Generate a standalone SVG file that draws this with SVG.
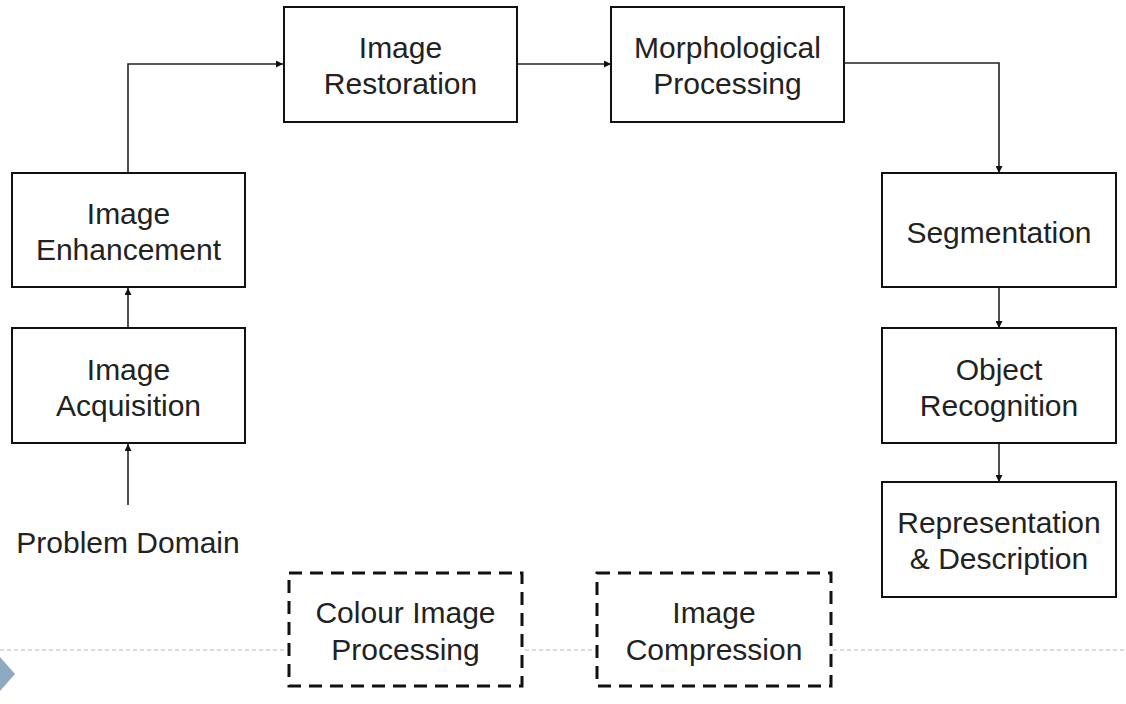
<svg xmlns="http://www.w3.org/2000/svg" width="1126" height="704" viewBox="0 0 1126 704">
  <style>
    .box { fill: #ffffff; stroke: #111111; stroke-width: 2; }
    .dbox { fill: #ffffff; stroke: #111111; stroke-width: 3; stroke-dasharray: 13 8; }
    .lbl { font-family: "Liberation Sans", Arial, sans-serif; font-size: 30px; fill: #222222; text-anchor: middle; }
    .conn { fill: none; stroke: #222222; stroke-width: 1.6; marker-end: url(#arr); }
    .guide { stroke: #b4bcc6; stroke-width: 1.2; stroke-dasharray: 4 3; fill: none; }
  </style>
  <defs>
    <marker id="arr" viewBox="0 0 10 10" refX="10" refY="5" markerWidth="8" markerHeight="7" orient="auto" markerUnits="userSpaceOnUse">
      <path d="M0,0 L10,5 L0,10 z" fill="#111111"/>
    </marker>
  </defs>

  <rect width="1126" height="704" fill="#ffffff"/>

  <!-- slide guide line and bullet -->
  <g id="decor">
    <line class="guide" x1="0" y1="650" x2="1126" y2="650"/>
    <polygon points="0,657 15,674 0,691" fill="#8fa8c4"/>
  </g>

  <g id="connectors">
    <path class="conn" d="M128,505 V444"/>
    <path class="conn" d="M128,328 V288"/>
    <path class="conn" d="M128,173 V64 H283"/>
    <path class="conn" d="M517,64 H611"/>
    <path class="conn" d="M844,63 H999 V173"/>
    <path class="conn" d="M999,287 V328"/>
    <path class="conn" d="M999,443 V482"/>
  </g>

  <g id="problem-domain">
    <text class="lbl" x="128" y="553">Problem Domain</text>
  </g>

  <g id="image-acquisition">
    <rect class="box" x="12" y="328" width="233" height="115"/>
    <text class="lbl" x="128.5" y="380">Image</text>
    <text class="lbl" x="128.5" y="416">Acquisition</text>
  </g>

  <g id="image-enhancement">
    <rect class="box" x="12" y="173" width="233" height="114"/>
    <text class="lbl" x="128.5" y="224">Image</text>
    <text class="lbl" x="128.5" y="260">Enhancement</text>
  </g>

  <g id="image-restoration">
    <rect class="box" x="284" y="7" width="233" height="115"/>
    <text class="lbl" x="400.5" y="58">Image</text>
    <text class="lbl" x="400.5" y="94">Restoration</text>
  </g>

  <g id="morphological-processing">
    <rect class="box" x="611" y="7" width="233" height="115"/>
    <text class="lbl" x="727.5" y="58">Morphological</text>
    <text class="lbl" x="727.5" y="94">Processing</text>
  </g>

  <g id="segmentation">
    <rect class="box" x="882" y="173" width="234" height="114"/>
    <text class="lbl" x="999" y="243">Segmentation</text>
  </g>

  <g id="object-recognition">
    <rect class="box" x="882" y="328" width="234" height="115"/>
    <text class="lbl" x="999" y="380">Object</text>
    <text class="lbl" x="999" y="416">Recognition</text>
  </g>

  <g id="representation-description">
    <rect class="box" x="882" y="482" width="234" height="115"/>
    <text class="lbl" x="999" y="533">Representation</text>
    <text class="lbl" x="999" y="569">&amp; Description</text>
  </g>

  <g id="colour-image-processing">
    <rect class="dbox" x="289" y="573" width="233" height="113"/>
    <text class="lbl" x="405.5" y="623">Colour Image</text>
    <text class="lbl" x="405.5" y="660">Processing</text>
  </g>

  <g id="image-compression">
    <rect class="dbox" x="597" y="573" width="234" height="113"/>
    <text class="lbl" x="714" y="623">Image</text>
    <text class="lbl" x="714" y="660">Compression</text>
  </g>
</svg>
